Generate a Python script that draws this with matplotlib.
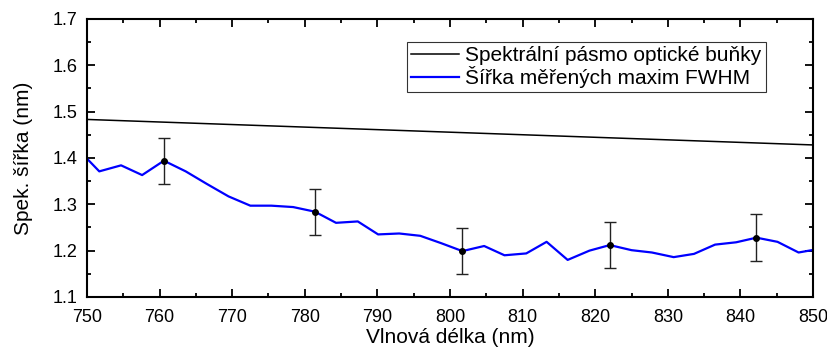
import matplotlib.pyplot as plt
from matplotlib.ticker import MultipleLocator

plt.rcParams['font.family'] = ['Liberation Sans', 'DejaVu Sans']

# Spektrální pásmo optické buňky (přímka mezi krajními body)
band_x = [750, 850]
band_y = [1.483, 1.428]

# Šířka měřených maxim FWHM
fwhm_x = [748.8, 751.7, 754.7, 757.6, 760.6, 763.6, 766.5, 769.5, 772.5, 775.4,
          778.4, 781.4, 784.3, 787.3, 790.1, 793.0, 795.9, 798.8, 801.7, 804.7,
          807.5, 810.5, 813.3, 816.2, 819.2, 822.0, 825.0, 827.8, 830.8, 833.6,
          836.5, 839.4, 842.2, 845.1, 848.0, 850.9]
fwhm_y = [1.418, 1.371, 1.384, 1.363, 1.394, 1.371, 1.344, 1.317, 1.297, 1.297,
          1.294, 1.284, 1.260, 1.263, 1.235, 1.237, 1.232, 1.216, 1.199, 1.210,
          1.190, 1.194, 1.219, 1.180, 1.200, 1.212, 1.201, 1.196, 1.186, 1.193,
          1.213, 1.218, 1.228, 1.219, 1.196, 1.204]

# Body s chybovými úsečkami
err_idx = [4, 11, 18, 25, 32]
err_size = 0.05

fig = plt.figure(figsize=(8.28, 3.49), dpi=100)
ax = fig.add_axes([0.105, 0.149, 0.877, 0.797])

ax.plot(band_x, band_y, color='black', lw=1.1, label='Spektrální pásmo optické buňky')
ax.plot(fwhm_x, fwhm_y, color='#0000ff', lw=1.6, label='Šířka měřených maxim FWHM')
ax.errorbar([fwhm_x[i] for i in err_idx], [fwhm_y[i] for i in err_idx],
            yerr=err_size, fmt='o', color='black', ms=4, ecolor='#222222',
            elinewidth=1.0, capsize=4, capthick=1.0)

ax.set_xlim(750, 850)
ax.set_ylim(1.1, 1.7)
ax.xaxis.set_major_locator(MultipleLocator(10))
ax.xaxis.set_minor_locator(MultipleLocator(5))
ax.yaxis.set_major_locator(MultipleLocator(0.1))
ax.yaxis.set_minor_locator(MultipleLocator(0.05))
ax.tick_params(which='both', direction='in', top=True, right=True,
               width=1.3, labelsize=13)
ax.tick_params(which='major', length=5.5)
ax.tick_params(which='minor', length=3)
ax.tick_params(axis='x', pad=9)
ax.tick_params(axis='y', pad=7)
for s in ax.spines.values():
    s.set_linewidth(1.5)

ax.set_xlabel('Vlnová délka (nm)', fontsize=15, labelpad=1)
ax.set_ylabel('Spek. šířka (nm)', fontsize=15, labelpad=14)

leg = ax.legend(loc='upper right', bbox_to_anchor=(0.935, 0.917),
                borderaxespad=0, fontsize=15, frameon=True, fancybox=False,
                handlelength=2.3, handletextpad=0.3, borderpad=0.2,
                labelspacing=0.05)
leg.get_frame().set_edgecolor('black')
leg.get_frame().set_linewidth(0.8)

fig.savefig('out.png', dpi=100)
